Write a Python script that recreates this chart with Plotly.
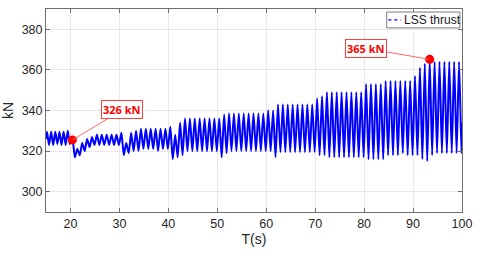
import plotly.graph_objects as go

# ---- data ----
# early part (15-20 s), shorter period
early_t = [15.0, 15.2, 15.62, 16.05, 16.47, 16.9, 17.32, 17.75, 18.17, 18.6, 19.02, 19.45, 19.87]
early_v = [326, 329.5, 323, 329.5, 323, 329.5, 323.5, 329.5, 323, 329.5, 323, 330, 323.5]

# per-cycle peaks (at n+0.4 s) and troughs (at n+0.9 s) for n = 20..99
cycle_n = list(range(20, 100))
peak_v = [
    326, 321, 324, 326, 327, 328, 328, 328, 328, 328,   # 20-29
    329, 324, 329, 330, 331, 331, 331, 331, 331, 331,   # 30-39
    332, 328, 334, 336, 336, 336, 336, 336, 336, 336,   # 40-49
    336, 338, 338.5, 338.5, 338.5, 338.5, 338.5, 338.5, 338.5, 338.5,  # 50-59
    340, 340, 343, 343, 343, 343, 343, 343, 343, 343,   # 60-69
    346, 347, 349, 349, 349, 349, 349, 349, 349, 349,   # 70-79
    353, 353, 353, 353, 354.5, 354.5, 354.5, 354.5, 354.5, 354.5,  # 80-89
    357, 361, 363, 365, 364, 364, 364, 364, 364, 364,   # 90-99
]
trough_v = [
    317, 318, 320, 322, 323, 323, 323, 323, 323, 323,   # 20-29
    318, 319, 320, 320, 321, 321, 321, 320, 321, 321,   # 30-39
    316, 317, 318, 320, 320, 320, 320, 320, 320, 320,   # 40-49
    317, 319, 320, 320, 320, 320, 320, 320, 320, 320,   # 50-59
    320, 317, 319.5, 319.5, 319.5, 319.5, 319.5, 319.5, 319.5, 319.5,  # 60-69
    318, 318, 317, 317, 317, 317, 317, 317, 317, 317,   # 70-79
    316, 316, 316, 316, 318, 318, 318, 319, 318, 318,   # 80-89
    318, 316, 315, 318, 319, 319, 319, 319, 319, 319,   # 90-99
]
end_t = 100.0
end_v = 334

marker_t = [20.4, 93.4]
marker_v = [325.5, 365.2]
marker_text = ["326 kN", "365 kN"]

x_ticks = [20, 30, 40, 50, 60, 70, 80, 90, 100]
y_ticks = [300, 320, 340, 360, 380]

# ---- assemble series ----
t = list(early_t)
v = list(early_v)
for n, pk, tr in zip(cycle_n, peak_v, trough_v):
    t += [n + 0.4, n + 0.9]
    v += [pk, tr]
t.append(end_t)
v.append(end_v)

fig = go.Figure()
fig.add_trace(go.Scatter(x=t, y=v, mode="lines",
                         line=dict(color="#0000ff", width=2, shape="spline", smoothing=0.6),
                         name="LSS thrust", showlegend=False))
fig.add_trace(go.Scatter(x=marker_t, y=marker_v, mode="markers",
                         marker=dict(color="#ff0000", size=9), showlegend=False))

offsets = [(50, -30), (-64, -11)]
for mt, mv, txt, (ax, ay) in zip(marker_t, marker_v, marker_text, offsets):
    fig.add_annotation(x=mt, y=mv, text="<b>%s</b>" % txt, showarrow=True,
                       ax=ax, ay=ay, arrowhead=2, arrowsize=0.8, arrowwidth=0.8,
                       arrowcolor="#ff4040", font=dict(color="#ff0000", size=11, family="Open Sans"),
                       bordercolor="#ff4040", borderwidth=1, borderpad=1, bgcolor="white")

# custom legend
fig.add_shape(type="rect", xref="paper", yref="paper", x0=0.819, x1=0.995, y0=0.907, y1=0.985,
              line=dict(color="#7a7a7a", width=1), fillcolor="white")
fig.add_shape(type="line", xref="paper", yref="paper", x0=0.823, x1=0.853, y0=0.946, y1=0.946,
              line=dict(color="#0000ff", width=1.2, dash="dot"))
fig.add_annotation(xref="paper", yref="paper", x=0.855, y=0.946, xanchor="left", yanchor="middle",
                   text="LSS thrust", showarrow=False,
                   font=dict(size=12, color="#1a1a1a", family="Liberation Sans"))

axis_common = dict(showgrid=True, gridcolor="#e8e8e8", gridwidth=1,
                   showline=True, linecolor="#6e6e6e", linewidth=1, mirror="ticks",
                   ticks="inside", ticklen=4, tickcolor="#6e6e6e", zeroline=False,
                   tickfont=dict(size=12.5, color="#262626", family="Liberation Sans"))
fig.update_xaxes(range=[15, 100], tickvals=x_ticks,
                 title=dict(text="T(s)", font=dict(size=14, color="#262626", family="Liberation Sans"), standoff=4),
                 **axis_common)
fig.update_yaxes(range=[290, 390], tickvals=y_ticks,
                 title=dict(text="kN", font=dict(size=14, color="#262626", family="Liberation Sans"), standoff=4),
                 **axis_common)
fig.update_layout(width=480, height=256, margin=dict(l=46, r=15, t=8, b=44),
                  plot_bgcolor="white", paper_bgcolor="white", showlegend=False)
fig.write_html("out.html", config={"displayModeBar": False},
               post_script="document.body.style.margin='0';")
